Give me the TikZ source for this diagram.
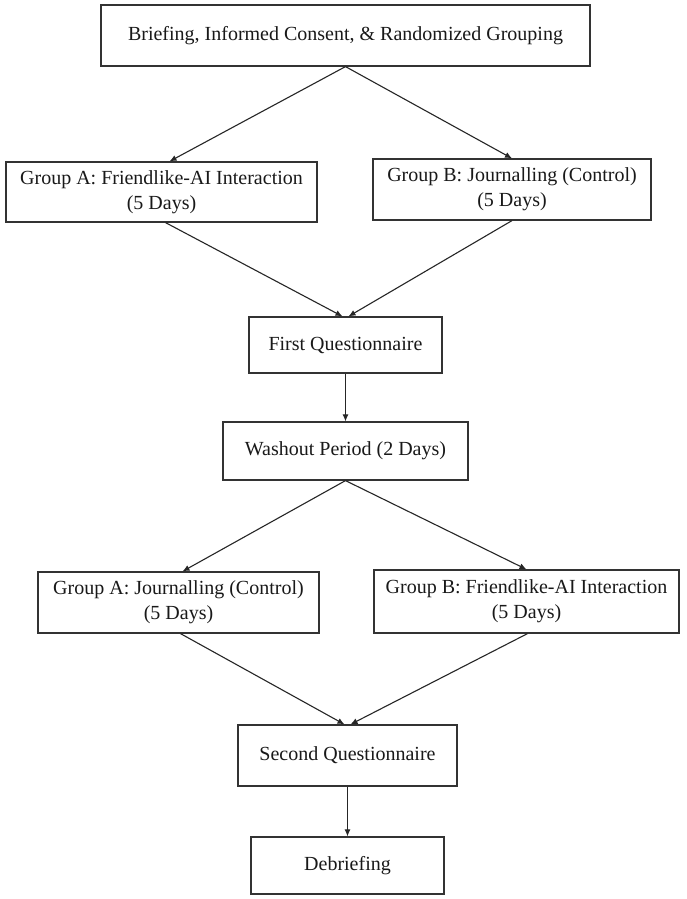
\documentclass[tikz,border=0pt]{standalone}
\usepackage{fontspec}
\setmainfont{Liberation Serif}
\usetikzlibrary{arrows.meta,calc}
\begin{document}
\begin{tikzpicture}[x=1pt,y=-1pt,
  box/.style={draw=black!80, line width=1.2pt, inner sep=0pt, align=center,
    font=\fontsize{20}{25}\selectfont, text=black!90},
  conn/.style={draw=black!85, line width=1.1pt, -{Latex[length=7pt,width=6pt]}}]
\path[use as bounding box, fill=white] (0,0) rectangle (687,899);
\node[box, minimum width=489pt, minimum height=61pt] (top) at (345.5,35.5) {Briefing, Informed Consent, \& Randomized Grouping};
\node[box, minimum width=311pt, minimum height=60pt] (ga1) at (161.5,192) {Group A: Friendlike-AI Interaction\\(5 Days)};
\node[box, minimum width=278pt, minimum height=61pt] (gb1) at (512,189.5) {Group B: Journalling (Control)\\(5 Days)};
\node[box, minimum width=193pt, minimum height=56pt] (fq) at (345.5,345) {First Questionnaire};
\node[box, minimum width=245pt, minimum height=58pt] (wo) at (345.5,451) {Washout Period (2 Days)};
\node[box, minimum width=281pt, minimum height=61pt] (ga2) at (178.5,602.5) {Group A: Journalling (Control)\\(5 Days)};
\node[box, minimum width=305pt, minimum height=63pt] (gb2) at (526.5,601.5) {Group B: Friendlike-AI Interaction\\(5 Days)};
\node[box, minimum width=219pt, minimum height=61pt] (sq) at (347.5,755.5) {Second Questionnaire};
\node[box, minimum width=193pt, minimum height=57pt] (db) at (347.5,865.5) {Debriefing};
\draw[conn] (top.south) -- ($(ga1.north)+(8,0)$);
\draw[conn] (top.south) -- (gb1.north);
\draw[conn] ($(ga1.south)+(4,0)$) -- ($(fq.north)+(-3,0)$);
\draw[conn] (gb1.south) -- ($(fq.north)+(3,0)$);
\draw[conn] (fq.south) -- (wo.north);
\draw[conn] (wo.south) -- ($(ga2.north)+(4,0)$);
\draw[conn] (wo.south) -- (gb2.north);
\draw[conn] ($(ga2.south)+(2,0)$) -- ($(sq.north)+(-3,0)$);
\draw[conn] ($(gb2.south)+(1,0)$) -- ($(sq.north)+(3,0)$);
\draw[conn] (sq.south) -- (db.north);
\end{tikzpicture}
\end{document}
